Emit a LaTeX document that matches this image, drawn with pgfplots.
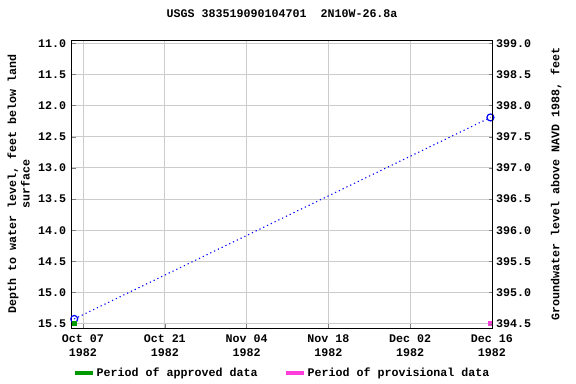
\documentclass[border=0pt]{standalone}
\usepackage{fontspec}
\setmainfont{Liberation Mono}
\usepackage{pgfplots}
\pgfplotsset{compat=1.18}
\definecolor{apprgreen}{RGB}{0,153,0}
\definecolor{provpink}{RGB}{255,60,220}
\begin{document}
\begin{tikzpicture}
\path[use as bounding box] (-71.7bp,-55.7bp) rectangle (504.3bp,328.3bp);
\pgfplotsset{
  every axis/.append style={font=\fontsize{11.7}{13.5}\selectfont\bfseries},
  every tick label/.append style={font=\fontsize{11.7}{13.5}\selectfont\bfseries},
}
\begin{axis}[
  scale only axis, width=420.8bp, height=288.3bp,
  at={(0,0)}, anchor=south west,
  xmin=-1.93, xmax=70.1, ymin=10.947, ymax=15.575, y dir=reverse,
  xtick={0,14,28,42,56,70},
  xticklabels={{Oct 07\\1982},{Oct 21\\1982},{Nov 04\\1982},{Nov 18\\1982},{Dec 02\\1982},{Dec 16\\1982}},
  xticklabel style={align=center, yshift=-3bp},
  ytick={11,11.5,12,12.5,13,13.5,14,14.5,15,15.5},
  yticklabel style={/pgf/number format/fixed, /pgf/number format/fixed zerofill, /pgf/number format/precision=1, xshift=-2bp},
  /pgf/number format/assume math mode=true,
  grid=major, grid style={color=black!20, line width=0.8pt},
  tick align=inside, major tick length=4bp,
  xtick pos=bottom, ytick pos=left,
  axis line style={line width=0.8pt},
  clip=false,
  title={USGS 383519090104701\ \ 2N10W-26.8a},
  title style={at={(axis description cs:0.5,1)}, anchor=base, yshift=17bp},
  ylabel={Depth to water level, feet below land\\surface},
  ylabel style={at={(axis description cs:0,0.5)}, anchor=center, align=center, yshift=53bp},
  legend style={at={(axis description cs:0.5,-0.155)}, anchor=center, draw=none, fill=none,
    legend columns=2, /tikz/every even column/.append style={column sep=24bp},
    font=\fontsize{11.7}{13.5}\selectfont\bfseries},
  legend image code/.code={\draw[#1] (0bp,0bp) -- (18bp,0bp);},
]
\addlegendimage{apprgreen, line width=4bp}
\addlegendentry{Period of approved data}
\addlegendimage{provpink, line width=4bp}
\addlegendentry{Period of provisional data}
\addplot[blue, dash pattern=on 1.2bp off 3bp, line width=1.1pt, mark=o, mark size=3.5bp, mark options={solid, line width=1.2pt}] coordinates {(-1.5,15.425) (69.75,12.19)};
\addplot[only marks, mark=square*, mark size=2bp, color=apprgreen] coordinates {(-1.5,15.5)};
\addplot[only marks, mark=square*, mark size=2bp, color=provpink] coordinates {(69.75,15.5)};
\end{axis}
\begin{axis}[
  scale only axis, width=420.8bp, height=288.3bp,
  at={(0,0)}, anchor=south west,
  xmin=-1.93, xmax=70.1, ymin=394.425, ymax=399.053,
  axis x line=none, axis y line*=right,
  ytick={394.5,395,395.5,396,396.5,397,397.5,398,398.5,399},
  yticklabel style={/pgf/number format/fixed, /pgf/number format/fixed zerofill, /pgf/number format/precision=1, xshift=0bp},
  /pgf/number format/assume math mode=true,
  tick align=inside, major tick length=4bp,
  axis line style={line width=0.8pt, -},
  ylabel={Groundwater level above NAVD 1988, feet},
  ylabel style={at={(axis description cs:1,0.5)}, anchor=center, yshift=-63.5bp},
]
\addplot[draw=none] coordinates {(0,396)};
\end{axis}
\end{tikzpicture}
\end{document}
